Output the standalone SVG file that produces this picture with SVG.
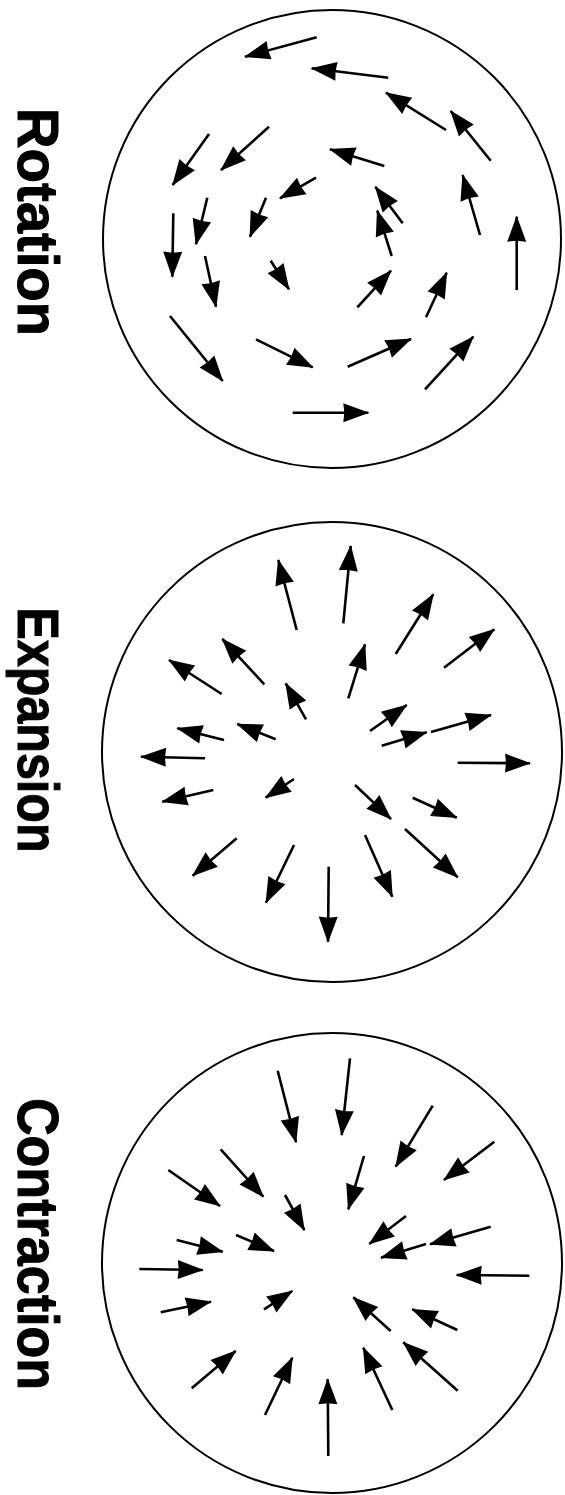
<svg xmlns="http://www.w3.org/2000/svg" width="565" height="1495" viewBox="0 0 565 1495">
<style>
.ring{fill:none;stroke:#000;stroke-width:2}
.a line{stroke:#000;stroke-width:2.6;marker-end:url(#ah)}
.lbl{font-family:"Liberation Sans",Arial,sans-serif;font-weight:bold;font-size:58px;fill:#000;text-anchor:middle;stroke:#000;stroke-width:1}
</style>
<defs>
<marker id="ah" markerUnits="userSpaceOnUse" viewBox="0 0 26 19" markerWidth="26" markerHeight="19" refX="25" refY="9.5" orient="auto" overflow="visible">
<path d="M0,0 L26,9.5 L0,19 L1,9.5 z" fill="#000"/>
</marker>
</defs>
<rect width="565" height="1495" fill="#fff"/>
<g id="rotation">
<text class="lbl" transform="rotate(90)" x="222" y="-18" textLength="228" lengthAdjust="spacingAndGlyphs">Rotation</text>
<circle class="ring" cx="332" cy="239" r="229"/>
</g>
<g id="expansion">
<text class="lbl" transform="rotate(90)" x="730" y="-18" textLength="245" lengthAdjust="spacingAndGlyphs">Expansion</text>
<circle class="ring" cx="332" cy="752" r="230"/>
</g>
<g id="contraction">
<text class="lbl" transform="rotate(90)" x="1244" y="-18" textLength="292" lengthAdjust="spacingAndGlyphs">Contraction</text>
<circle class="ring" cx="332" cy="1263" r="230"/>
</g>
<g id="connectors" class="a">
<!-- rotation -->
<line x1="316.7" y1="37.3" x2="245" y2="56.7"/>
<line x1="388.3" y1="77.7" x2="311.7" y2="68.3"/>
<line x1="446" y1="130" x2="386" y2="92.7"/>
<line x1="490.7" y1="160.7" x2="450.7" y2="111"/>
<line x1="209" y1="134" x2="172.7" y2="185"/>
<line x1="269" y1="126.7" x2="221" y2="170"/>
<line x1="384.3" y1="166" x2="330" y2="149.3"/>
<line x1="316" y1="177.7" x2="280" y2="198.3"/>
<line x1="207.3" y1="197.7" x2="196" y2="244.3"/>
<line x1="266" y1="197.7" x2="250" y2="236.7"/>
<line x1="402.7" y1="223.3" x2="375.3" y2="186.7"/>
<line x1="391.7" y1="256" x2="377.3" y2="210.7"/>
<line x1="480" y1="235" x2="462.7" y2="175"/>
<line x1="516.7" y1="290" x2="516.7" y2="216.7"/>
<line x1="173.3" y1="213.3" x2="172.3" y2="276.7"/>
<line x1="205" y1="256" x2="216" y2="306.7"/>
<line x1="270.7" y1="260.7" x2="289" y2="289.3"/>
<line x1="357.3" y1="307.3" x2="391" y2="270.7"/>
<line x1="426" y1="317.3" x2="446.7" y2="272.7"/>
<line x1="170" y1="316" x2="222.7" y2="381"/>
<line x1="256" y1="339.3" x2="312.7" y2="367.3"/>
<line x1="347.7" y1="366.7" x2="411" y2="339"/>
<line x1="425" y1="389.3" x2="473.3" y2="336.7"/>
<line x1="292.7" y1="412.7" x2="368.3" y2="412.7"/>
<!-- expansion -->
<line x1="296.7" y1="630" x2="278.3" y2="560"/>
<line x1="343.3" y1="623.3" x2="350.7" y2="546"/>
<line x1="395.7" y1="654" x2="433.3" y2="594.3"/>
<line x1="444" y1="667.7" x2="494.3" y2="629.3"/>
<line x1="221.7" y1="694" x2="169" y2="660"/>
<line x1="264.3" y1="684.3" x2="222.3" y2="639"/>
<line x1="306" y1="719.3" x2="285.7" y2="683.3"/>
<line x1="348.3" y1="698.3" x2="365" y2="644.3"/>
<line x1="370" y1="731" x2="406.7" y2="705"/>
<line x1="431" y1="732" x2="491" y2="715"/>
<line x1="224" y1="740" x2="177.3" y2="728.3"/>
<line x1="275.7" y1="739.3" x2="237.3" y2="724"/>
<line x1="205" y1="758.3" x2="141" y2="756.7"/>
<line x1="381.7" y1="745.7" x2="426.7" y2="732.3"/>
<line x1="457.7" y1="762.7" x2="530" y2="763.3"/>
<line x1="213.3" y1="790" x2="162.3" y2="801.7"/>
<line x1="294" y1="779" x2="265.7" y2="797.7"/>
<line x1="355" y1="785" x2="391" y2="819"/>
<line x1="412.7" y1="797.7" x2="456.7" y2="817.7"/>
<line x1="236.7" y1="838.3" x2="192.7" y2="875.7"/>
<line x1="294" y1="845" x2="266" y2="902.7"/>
<line x1="328.7" y1="866.7" x2="328" y2="941.7"/>
<line x1="365" y1="835" x2="392.3" y2="896.7"/>
<line x1="405" y1="829" x2="457.7" y2="877.3"/>
<!-- contraction -->
<line x1="277.7" y1="1070.7" x2="296" y2="1142.3"/>
<line x1="350" y1="1058.3" x2="341.7" y2="1135"/>
<line x1="432.7" y1="1105.7" x2="395.7" y2="1166.7"/>
<line x1="494.3" y1="1141.7" x2="444" y2="1180"/>
<line x1="168.3" y1="1170" x2="220" y2="1206"/>
<line x1="220.7" y1="1149.3" x2="263.3" y2="1196.7"/>
<line x1="285" y1="1195" x2="304.3" y2="1230"/>
<line x1="364" y1="1156" x2="348.3" y2="1209.3"/>
<line x1="406" y1="1216" x2="369.3" y2="1244"/>
<line x1="490.7" y1="1226.7" x2="430" y2="1244.3"/>
<line x1="176.7" y1="1240" x2="222.7" y2="1251.7"/>
<line x1="236" y1="1235" x2="274" y2="1251"/>
<line x1="426" y1="1244" x2="381" y2="1257.7"/>
<line x1="139.3" y1="1269" x2="202.7" y2="1270"/>
<line x1="529.3" y1="1275.7" x2="456.7" y2="1275"/>
<line x1="160.7" y1="1312.3" x2="211" y2="1301.7"/>
<line x1="264" y1="1309.3" x2="292.3" y2="1291"/>
<line x1="390.7" y1="1331" x2="353.3" y2="1297.3"/>
<line x1="457.3" y1="1330" x2="412.3" y2="1309.3"/>
<line x1="191.7" y1="1388.3" x2="235.7" y2="1351"/>
<line x1="265" y1="1415" x2="292.3" y2="1357.7"/>
<line x1="328.3" y1="1456" x2="327.7" y2="1379.3"/>
<line x1="392.3" y1="1410" x2="363.3" y2="1347.7"/>
<line x1="457.7" y1="1390.7" x2="403.3" y2="1342.3"/>
</g>
</svg>
